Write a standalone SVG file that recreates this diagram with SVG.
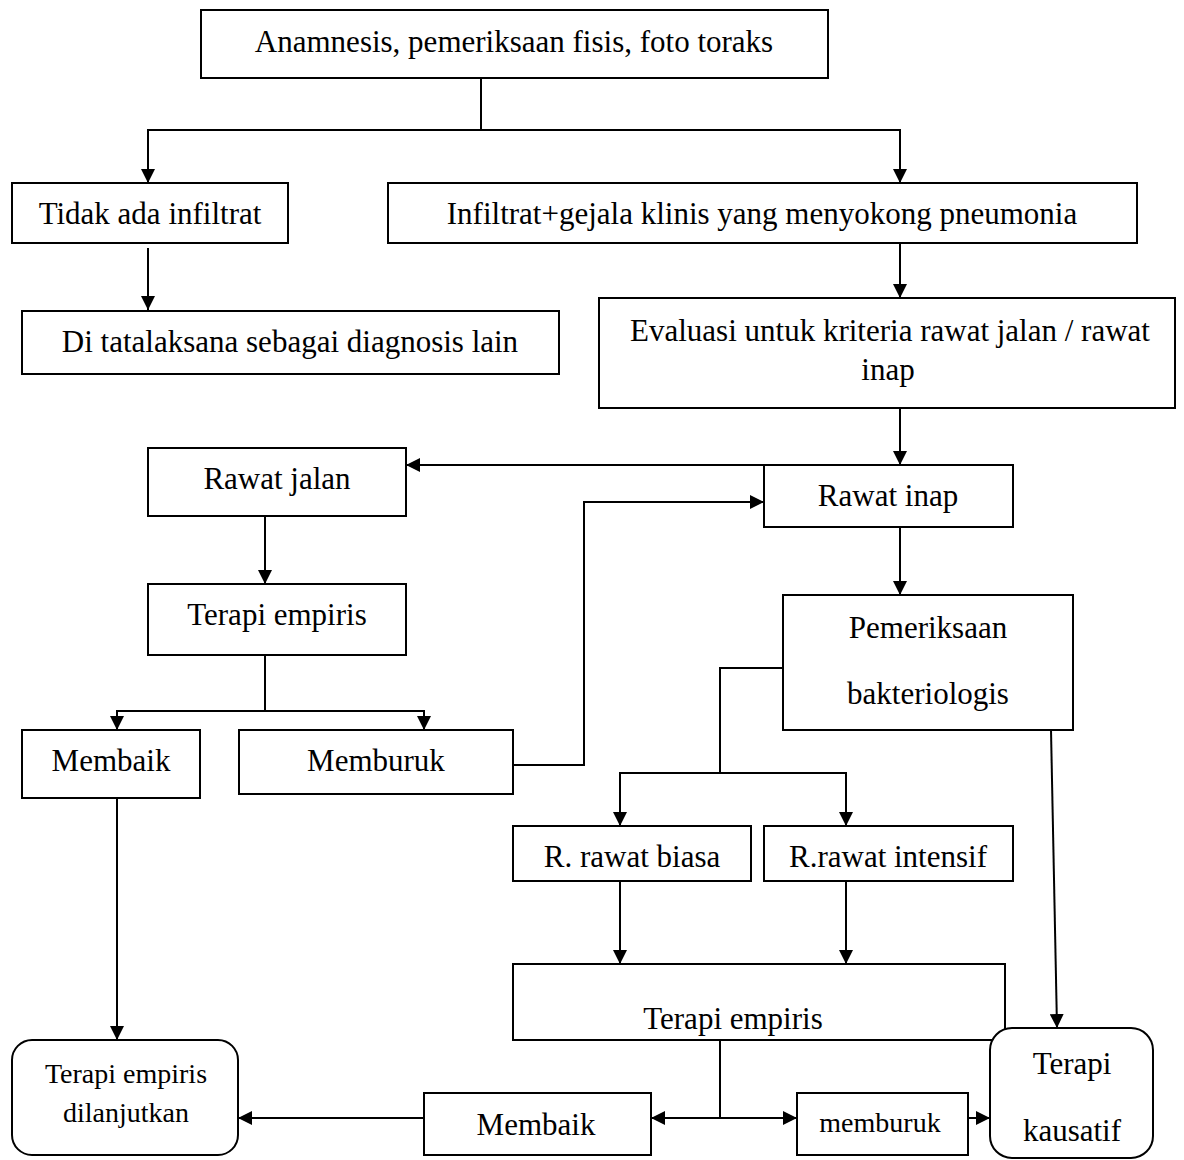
<svg xmlns="http://www.w3.org/2000/svg" width="1184" height="1160" viewBox="0 0 1184 1160">
<style>
.box{fill:#fff;stroke:#000;stroke-width:2}
.t{font-family:"Liberation Serif","Times New Roman",serif;font-size:31px;fill:#000;text-anchor:middle}
.s{font-size:28px}
.c{fill:none;stroke:#000;stroke-width:2}
</style>
<defs>
<marker id="ar" markerUnits="userSpaceOnUse" markerWidth="14" markerHeight="14" viewBox="0 0 14 14" refX="14" refY="7" orient="auto">
<path d="M0,0 L14,7 L0,14 Z" fill="#000"/>
</marker>
</defs>
<rect width="1184" height="1160" fill="#fff"/>
<g id="connectors">
<polyline class="c" points="481,78 481,130"/>
<polyline class="c" points="481,130 148,130 148,183" marker-end="url(#ar)"/>
<polyline class="c" points="481,130 900,130 900,183" marker-end="url(#ar)"/>
<polyline class="c" points="148,248 148,310" marker-end="url(#ar)"/>
<polyline class="c" points="900,243 900,298" marker-end="url(#ar)"/>
<polyline class="c" points="900,408 900,465" marker-end="url(#ar)"/>
<polyline class="c" points="900,465 406,465" marker-end="url(#ar)"/>
<polyline class="c" points="265,516 265,584" marker-end="url(#ar)"/>
<polyline class="c" points="265,655 265,711"/>
<polyline class="c" points="265,711 117,711 117,730" marker-end="url(#ar)"/>
<polyline class="c" points="265,711 424,711 424,730" marker-end="url(#ar)"/>
<polyline class="c" points="513,765 584,765 584,502 764,502" marker-end="url(#ar)"/>
<polyline class="c" points="900,527 900,595" marker-end="url(#ar)"/>
<polyline class="c" points="783,668 720,668 720,773"/>
<polyline class="c" points="720,773 620,773 620,826" marker-end="url(#ar)"/>
<polyline class="c" points="720,773 846,773 846,826" marker-end="url(#ar)"/>
<polyline class="c" points="620,881 620,964" marker-end="url(#ar)"/>
<polyline class="c" points="846,881 846,964" marker-end="url(#ar)"/>
<polyline class="c" points="1051,730 1057,1028" marker-end="url(#ar)"/>
<polyline class="c" points="117,798 117,1040" marker-end="url(#ar)"/>
<polyline class="c" points="720,1040 720,1118"/>
<polyline class="c" points="720,1118 651,1118" marker-end="url(#ar)"/>
<polyline class="c" points="720,1118 797,1118" marker-end="url(#ar)"/>
<polyline class="c" points="968,1118 990,1118" marker-end="url(#ar)"/>
<polyline class="c" points="424,1118 238,1118" marker-end="url(#ar)"/>
</g>
<g id="n1"><rect class="box" x="201" y="10" width="627" height="68"/><text class="t" x="514" y="52">Anamnesis, pemeriksaan fisis, foto toraks</text></g>
<g id="n2"><rect class="box" x="12" y="183" width="276" height="60"/><text class="t" x="150" y="224">Tidak ada infiltrat</text></g>
<g id="n3"><rect class="box" x="388" y="183" width="749" height="60"/><text class="t" x="762" y="224">Infiltrat+gejala klinis yang menyokong pneumonia</text></g>
<g id="n4"><rect class="box" x="22" y="311" width="537" height="63"/><text class="t" x="290" y="352">Di tatalaksana sebagai diagnosis lain</text></g>
<g id="n5"><rect class="box" x="599" y="298" width="576" height="110"/><text class="t" x="890" y="341">Evaluasi untuk kriteria rawat jalan / rawat</text><text class="t" x="888" y="380">inap</text></g>
<g id="n6"><rect class="box" x="148" y="448" width="258" height="68"/><text class="t" x="277" y="489">Rawat jalan</text></g>
<g id="n7"><rect class="box" x="764" y="465" width="249" height="62"/><text class="t" x="888" y="506">Rawat inap</text></g>
<g id="n8"><rect class="box" x="148" y="584" width="258" height="71"/><text class="t" x="277" y="625">Terapi empiris</text></g>
<g id="n9"><rect class="box" x="783" y="595" width="290" height="135"/><text class="t" x="928" y="638">Pemeriksaan</text><text class="t" x="928" y="704">bakteriologis</text></g>
<g id="n10"><rect class="box" x="22" y="730" width="178" height="68"/><text class="t" x="111" y="771">Membaik</text></g>
<g id="n11"><rect class="box" x="239" y="730" width="274" height="64"/><text class="t" x="376" y="771">Memburuk</text></g>
<g id="n12"><rect class="box" x="513" y="826" width="238" height="55"/><text class="t" x="632" y="867">R. rawat biasa</text></g>
<g id="n13"><rect class="box" x="764" y="826" width="249" height="55"/><text class="t" x="888" y="867">R.rawat intensif</text></g>
<g id="n14"><rect class="box" x="513" y="964" width="492" height="76"/><text class="t" x="733" y="1029">Terapi empiris</text></g>
<g id="n15"><rect class="box" x="12" y="1040" width="226" height="115" rx="20"/><text class="t s" x="126" y="1083">Terapi empiris</text><text class="t s" x="126" y="1122">dilanjutkan</text></g>
<g id="n16"><rect class="box" x="424" y="1093" width="227" height="62"/><text class="t" x="536" y="1135">Membaik</text></g>
<g id="n17"><rect class="box" x="797" y="1093" width="171" height="62"/><text class="t s" x="880" y="1132">memburuk</text></g>
<g id="n18"><rect class="box" x="990" y="1028" width="163" height="130" rx="22"/><text class="t" x="1072" y="1074">Terapi</text><text class="t" x="1072" y="1141">kausatif</text></g>
</svg>
